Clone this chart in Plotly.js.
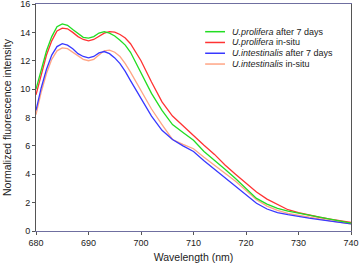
<!DOCTYPE html>
<html>
<head>
<meta charset="utf-8">
<script src="https://cdn.plot.ly/plotly-3.0.1.min.js"></script>
<style>html,body{margin:0;padding:0;background:#fff;}#chart{width:359px;height:264px;}</style>
</head>
<body>
<div id="chart"></div>
<script>
var wavelength = [680,681,682,683,684,685,686,687,688,689,690,691,692,693,694,695,696,697,698,700,702,704,706,708,709,710,712,714,716,718,720,722,724,726,728,730,732,734,736,738,740];

var proliferaAfter = [10.0,11.4,12.7,13.7,14.4,14.6,14.5,14.2,13.9,13.65,13.6,13.7,13.95,14.05,13.95,13.75,13.45,13.1,12.6,11.2,9.7,8.5,7.5,6.95,6.7,6.4,5.6,5.0,4.35,3.7,3.0,2.3,1.9,1.6,1.4,1.25,1.1,0.95,0.82,0.68,0.55];
var proliferaInSitu = [9.6,11.1,12.4,13.4,14.1,14.3,14.25,14.0,13.7,13.5,13.4,13.5,13.75,13.95,14.05,14.02,13.85,13.6,13.2,12.0,10.5,9.1,8.1,7.4,7.05,6.75,6.05,5.4,4.65,4.0,3.4,2.75,2.25,1.85,1.5,1.3,1.12,0.97,0.84,0.72,0.6];
var intestinalisAfter = [8.5,10.1,11.4,12.4,13.0,13.2,13.1,12.85,12.5,12.3,12.2,12.3,12.55,12.65,12.5,12.2,11.8,11.25,10.6,9.3,8.1,7.1,6.45,6.0,5.8,5.6,4.95,4.35,3.75,3.15,2.55,1.95,1.55,1.3,1.15,1.0,0.9,0.8,0.7,0.6,0.5];
var intestinalisInSitu = [8.2,9.8,11.1,12.1,12.7,12.9,12.85,12.6,12.3,12.1,12.0,12.1,12.4,12.7,12.75,12.6,12.3,11.8,11.2,9.9,8.6,7.5,6.45,6.1,5.95,5.8,5.2,4.65,4.1,3.5,2.85,2.2,1.75,1.45,1.25,1.1,0.97,0.85,0.72,0.6,0.5];

var speciesNames = ["U.prolifera","U.prolifera","U.intestinalis","U.intestinalis"];
var conditionNames = [" after 7 days"," in-situ"," after 7 days"," in-situ"];
var seriesColors = ["#22dd22","#ff3333","#3838ff","#ffa585"];
var seriesValues = [proliferaAfter, proliferaInSitu, intestinalisAfter, intestinalisInSitu];

var xTicks = [680,690,700,710,720,730,740];
var yTicks = [0,2,4,6,8,10,12,14,16];

var font = "Liberation Sans, Arial, sans-serif";

var traces = seriesValues.map(function(v,i){
  return {x: wavelength, y: v, type: "scatter", mode: "lines",
    name: "<i>"+speciesNames[i]+"</i>"+conditionNames[i],
    line: {color: seriesColors[i], width: 1.3}, showlegend: false};
});
traces = [traces[3], traces[2], traces[1], traces[0]];

var annotations = [];
var shapes = [];
for (var i = 0; i < speciesNames.length; i++) {
  var yy = 0.878 - i * 0.0475;
  annotations.push({xref: "paper", yref: "paper", x: 0.616, y: yy, xanchor: "left", yanchor: "middle",
    text: "<i>"+speciesNames[i]+"</i>"+conditionNames[i], showarrow: false,
    font: {family: font, size: 9, color: "#222"}});
  shapes.push({type: "line", xref: "paper", yref: "paper", x0: 0.537, x1: 0.600, y0: yy, y1: yy,
    line: {color: seriesColors[i], width: 1.5}});
}

var layout = {
  width: 359, height: 264,
  margin: {l: 36, r: 8, t: 4, b: 33, pad: 0},
  paper_bgcolor: "#fff", plot_bgcolor: "#fff",
  showlegend: false,
  font: {family: font, size: 9, color: "#222"},
  xaxis: {range: [680, 740], tickvals: xTicks, ticktext: xTicks.map(String),
    ticks: "outside", ticklen: 3, tickcolor: "#555", showgrid: false, zeroline: false,
    showline: true, linecolor: "#6f6fa0", linewidth: 1, mirror: true,
    ticklabeloverflow: "allow",
    tickfont: {family: font, size: 9, color: "#222"},
    title: {text: "Wavelength (nm)", font: {family: font, size: 10.5, color: "#222"}, standoff: 6}},
  yaxis: {range: [0, 16], tickvals: yTicks, ticktext: yTicks.map(String),
    ticks: "outside", ticklen: 3, tickcolor: "#555", showgrid: false, zeroline: false,
    showline: true, linecolor: "#555", linewidth: 1, mirror: true,
    ticklabeloverflow: "allow",
    tickfont: {family: font, size: 9, color: "#222"},
    title: {text: "Normalized fluorescence intensity", font: {family: font, size: 10.5, color: "#222"}, standoff: 6}},
  annotations: annotations,
  shapes: shapes
};

Plotly.newPlot("chart", traces, layout, {staticPlot: true, displayModeBar: false});
</script>
</body>
</html>
